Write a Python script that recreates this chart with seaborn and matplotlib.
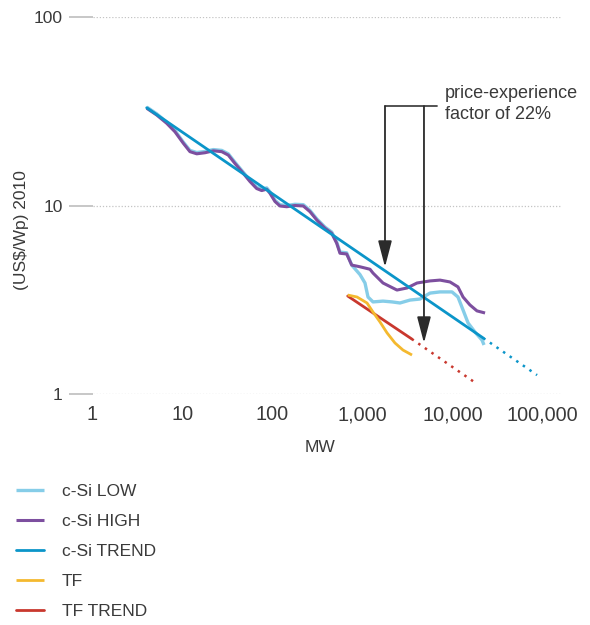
import matplotlib
matplotlib.use("Agg")
import matplotlib.pyplot as plt
import seaborn as sns
import pandas as pd
from matplotlib.ticker import FixedLocator, FixedFormatter, NullLocator

# ---- data ----
csi_high_x = [4.0, 5.17, 6.67, 8.25, 10.2, 12.1, 14.4, 17.8, 22.0, 27.3, 32.3, 38.3, 47.4, 56.2, 66.7,
              75.8, 86.2, 93.8, 106.6, 121, 144, 178, 220, 261, 310, 383, 455, 517, 562, 667, 759, 938,
              1211, 1309, 1690, 2415, 3120, 4035, 5620, 7260, 9380, 11500, 13100, 15600, 18700, 23000]
csi_high_y = [32.8, 30.2, 27.3, 24.6, 21.4, 19.3, 18.8, 19.05, 19.5, 19.3, 18.5, 16.7, 14.8, 13.4, 12.3,
              12.0, 12.2, 11.6, 10.5, 9.94, 9.85, 10.0, 9.94, 9.27, 8.38, 7.57, 7.12, 6.30, 5.58, 5.53, 4.83,
              4.73, 4.59, 4.38, 3.88, 3.56, 3.65, 3.88, 3.98, 4.02, 3.93, 3.70, 3.27, 2.97, 2.76, 2.69]

csi_low_x = [4.0, 5.17, 6.67, 8.25, 10.2, 12.1, 14.4, 17.8, 22.0, 27.3, 32.3, 38.3, 47.4, 56.2, 66.7,
             75.8, 86.2, 93.8, 106.6, 121, 144, 178, 220, 261, 310, 383, 455, 517, 562, 667, 759, 938,
             1066, 1151, 1309, 1690, 2127, 2610, 3370, 4350, 5620, 7260, 9870, 11500, 13100, 14900,
             17800, 21300, 22400]
csi_low_y = [33.3, 30.65, 27.7, 24.97, 21.7, 19.6, 19.1, 19.35, 19.8, 19.6, 18.8, 16.95, 15.0, 13.6, 12.5,
             12.2, 12.4, 11.8, 10.65, 10.1, 10.0, 10.15, 10.1, 9.41, 8.5, 7.68, 7.23, 6.4, 5.66, 5.61, 4.83,
             4.3, 3.88, 3.27, 3.08, 3.11, 3.08, 3.04, 3.15, 3.19, 3.43, 3.48, 3.48, 3.27, 2.79, 2.38,
             2.13, 1.93, 1.82]

csi_trend_x = [4, 22000]
csi_trend_y = [33, 1.98]
csi_trend_ext_x = [22000, 87000]
csi_trend_ext_y = [1.98, 1.26]

tf_x = [685, 869, 1122, 1309, 1565, 1873, 2295, 2820, 3550]
tf_y = [3.35, 3.27, 3.04, 2.72, 2.41, 2.11, 1.865, 1.71, 1.61]

tf_trend_x = [685, 3520]
tf_trend_y = [3.31, 1.96]
tf_trend_ext_x = [3520, 17800]
tf_trend_ext_y = [1.96, 1.15]

x_ticks = [1, 10, 100, 1000, 10000, 100000]
x_tick_labels = ["1", "10", "100", "1,000", "10,000", "100,000"]
y_ticks = [1, 10, 100]
y_tick_labels = ["1", "10", "100"]

# annotation (bracket + two arrows)
arrow_xs = [1778, 4820]
arrow_tips = [4.72, 1.865]
bracket_y = 33.7
bracket_right = 6730
note_text = "price-experience\nfactor of 22%"
note_xy = (8260, 34.5)

# ---- style ----
sns.set_style("white")
plt.rcParams["font.family"] = ["Liberation Sans", "DejaVu Sans"]
TXT = "#3a3a3a"
colors = {
    "c-Si LOW": "#86cde8",
    "c-Si HIGH": "#7d4f9f",
    "c-Si TREND": "#0b95c9",
    "TF": "#f4b92f",
    "TF TREND": "#c9382e",
}

fig = plt.figure(figsize=(5.9, 6.25), dpi=100)
ax = fig.add_axes([92.5 / 590, 1 - 394 / 625, (562 - 92.5) / 590, (394 - 17) / 625])

def df(x, y):
    return pd.DataFrame({"x": x, "y": y})

smooth = dict(solid_joinstyle="round", solid_capstyle="butt")
sns.lineplot(data=df(csi_low_x, csi_low_y), x="x", y="y", ax=ax, color=colors["c-Si LOW"],
             lw=2.4, zorder=3, label="c-Si LOW", **smooth)
sns.lineplot(data=df(csi_high_x, csi_high_y), x="x", y="y", ax=ax, color=colors["c-Si HIGH"],
             lw=2.2, zorder=4, label="c-Si HIGH", **smooth)
sns.lineplot(data=df(csi_trend_x, csi_trend_y), x="x", y="y", ax=ax, color=colors["c-Si TREND"],
             lw=2.0, zorder=5, label="c-Si TREND")
sns.lineplot(data=df(csi_trend_ext_x, csi_trend_ext_y), x="x", y="y", ax=ax, color=colors["c-Si TREND"],
             lw=1.8, zorder=5, linestyle=(0, (1, 2.2)))
sns.lineplot(data=df(tf_trend_x, tf_trend_y), x="x", y="y", ax=ax, color=colors["TF TREND"],
             lw=2.0, zorder=5, label="TF TREND")
sns.lineplot(data=df(tf_trend_ext_x, tf_trend_ext_y), x="x", y="y", ax=ax, color=colors["TF TREND"],
             lw=1.8, zorder=5, linestyle=(0, (1, 2.2)))
sns.lineplot(data=df(tf_x, tf_y), x="x", y="y", ax=ax, color=colors["TF"],
             lw=2.0, zorder=6, label="TF", **smooth)

ax.set_xscale("log")
ax.set_yscale("log")
ax.set_xlim(1, 10 ** ((562 - 92.5) / 90))
ax.set_ylim(1, 100)

ax.xaxis.set_major_locator(FixedLocator(x_ticks))
ax.xaxis.set_major_formatter(FixedFormatter(x_tick_labels))
ax.xaxis.set_minor_locator(NullLocator())
ax.yaxis.set_major_locator(FixedLocator(y_ticks))
ax.yaxis.set_major_formatter(FixedFormatter(y_tick_labels))
ax.yaxis.set_minor_locator(NullLocator())

for s in ax.spines.values():
    s.set_visible(False)
ax.tick_params(axis="x", bottom=False, length=0, pad=8, labelsize=14.3, labelcolor=TXT)
ax.tick_params(axis="y", left=True, length=17.5, width=1.2, color="#bdbdbd", pad=4,
               labelsize=12.5, labelcolor=TXT)
ax.yaxis.grid(True, linestyle=(0, (1, 1.5)), color="#c4c4c4", lw=0.9)
ax.xaxis.grid(False)
ax.set_axisbelow(True)

ax.set_xlabel("MW", fontsize=12.5, color=TXT)
ax.xaxis.set_label_coords((320 - 92.5) / 469.5, (394 - 440) / 377)
ax.set_ylabel("(US$/Wp) 2010", fontsize=12.5, color=TXT)
ax.yaxis.set_label_coords((29 - 92.5) / 469.5, (394 - 230) / 377)

# bracket + arrows
ax.plot([arrow_xs[0], bracket_right], [bracket_y, bracket_y], color="#444444", lw=1.3, zorder=7)
for ax_x, tip in zip(arrow_xs, arrow_tips):
    ax.annotate("", xy=(ax_x, tip), xytext=(ax_x, bracket_y),
                arrowprops=dict(arrowstyle="-|>,head_length=1.6,head_width=0.42", color="#2b2b2b",
                                lw=1.3, shrinkA=0, shrinkB=0), zorder=8)
ax.text(note_xy[0], note_xy[1], note_text, ha="left", va="center", fontsize=13, color=TXT,
        linespacing=1.3)

# legend
handles, labels = ax.get_legend_handles_labels()
order = ["c-Si LOW", "c-Si HIGH", "c-Si TREND", "TF", "TF TREND"]
hd = dict(zip(labels, handles))
if ax.get_legend():
    ax.get_legend().remove()
leg = fig.legend([hd[k] for k in order], order, loc="upper left",
                 bbox_to_anchor=(16 / 590, 1 - 484 / 625), frameon=False, fontsize=12.5,
                 handlelength=1.6, handletextpad=1.05, labelspacing=0.86, borderpad=0, borderaxespad=0)
for t in leg.get_texts():
    t.set_color(TXT)

fig.savefig("out.png", dpi=100)
